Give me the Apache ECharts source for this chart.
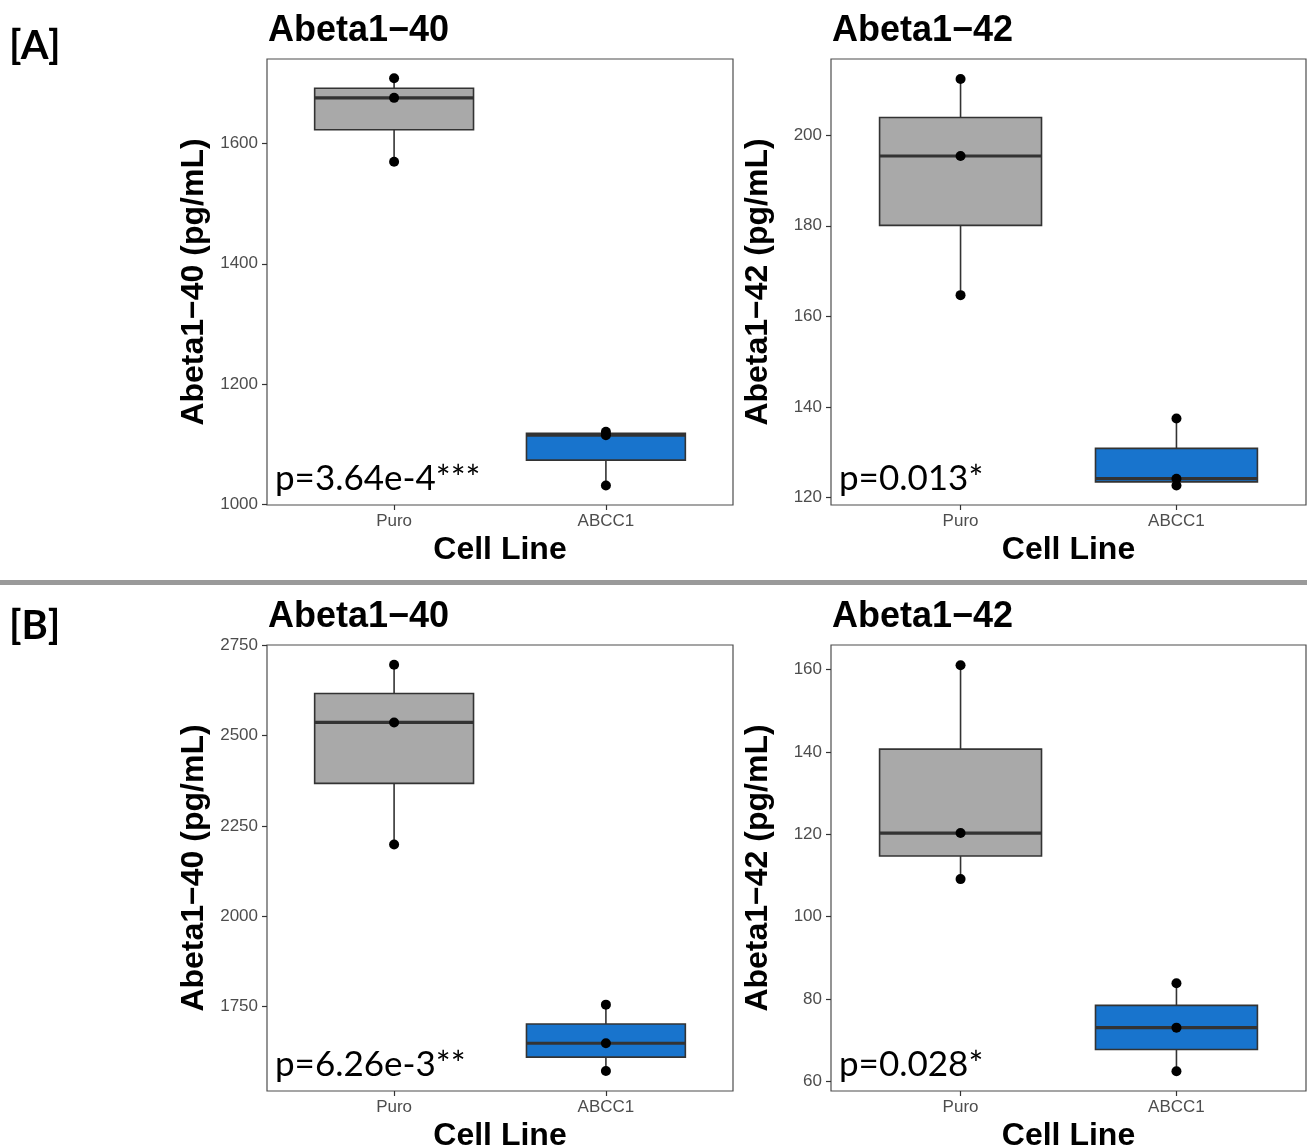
<!DOCTYPE html>
<html>
<head>
<meta charset="utf-8">
<script src="https://cdn.jsdelivr.net/npm/echarts@6/dist/echarts.min.js"></script>
<style>
  html, body { margin: 0; padding: 0; background: #fff; }
  #chart { width: 1307px; height: 1148px; }
</style>
</head>
<body>
<div id="chart"></div>
<script>
var cellLines = ['Puro', 'ABCC1'];
var boxColors = ['#A9A9A9', '#1874CD'];

// box stats per cell line: [min, Q1, median, Q3, max]
var boxA40 = [[1569.5, 1622.5, 1675.5, 1691.5, 1708], [1032, 1074, 1115.5, 1118.5, 1121]];
var boxA42 = [[164.7, 180.1, 195.4, 203.9, 212.4], [122.7, 123.5, 124.2, 130.9, 137.5]];
var boxB40 = [[2199, 2367.9, 2536.7, 2616.6, 2696.5], [1571.8, 1610.2, 1648.6, 1702, 1755.5]];
var boxB42 = [[109.1, 114.7, 120.3, 140.7, 161.1], [62.4, 67.7, 73.0, 78.4, 83.8]];

// individual samples per cell line
var ptsA40 = [[1569.5, 1675.5, 1708], [1032, 1115.5, 1121]];
var ptsA42 = [[164.7, 195.4, 212.4], [122.7, 124.2, 137.5]];
var ptsB40 = [[2199, 2536.7, 2696.5], [1571.8, 1648.6, 1755.5]];
var ptsB42 = [[109.1, 120.3, 161.1], [62.4, 73.0, 83.8]];

// y ranges and tick labels
var rangeA40 = [999.5, 1740], ticksA40 = [1000, 1200, 1400, 1600];
var rangeA42 = [118.4, 216.8], ticksA42 = [120, 140, 160, 180, 200];
var rangeB40 = [1516.5, 2751], ticksB40 = [1750, 2000, 2250, 2500, 2750];
var rangeB42 = [57.6, 166], ticksB42 = [60, 80, 100, 120, 140, 160];

var pLabels = ['p=3.64e-4***', 'p=0.013*', 'p=6.26e-3**', 'p=0.028*'];

var panels = [
  { title: 'Abeta1\u221240', yName: 'Abeta1\u221240 (pg/mL)', box: boxA40, pts: ptsA40, range: rangeA40, ticks: ticksA40,
    grid: { left: 267, top: 59, width: 466, height: 446 } },
  { title: 'Abeta1\u221242', yName: 'Abeta1\u221242 (pg/mL)', box: boxA42, pts: ptsA42, range: rangeA42, ticks: ticksA42,
    grid: { left: 831, top: 59, width: 475, height: 446 } },
  { title: 'Abeta1\u221240', yName: 'Abeta1\u221240 (pg/mL)', box: boxB40, pts: ptsB40, range: rangeB40, ticks: ticksB40,
    grid: { left: 267, top: 645, width: 466, height: 446 } },
  { title: 'Abeta1\u221242', yName: 'Abeta1\u221242 (pg/mL)', box: boxB42, pts: ptsB42, range: rangeB42, ticks: ticksB42,
    grid: { left: 831, top: 645, width: 475, height: 446 } }
];

var FONT = '"Liberation Sans", Arial, sans-serif';
var PFONT = 'Lato, "Open Sans", sans-serif';

function renderBox(params, api) {
  var x = api.value(0);
  var lo = api.coord([x, api.value(1)]);
  var q1 = api.coord([x, api.value(2)]);
  var med = api.coord([x, api.value(3)]);
  var q3 = api.coord([x, api.value(4)]);
  var hi = api.coord([x, api.value(5)]);
  var w = api.size([0.75, 0])[0];
  var line = { stroke: '#333333', lineWidth: 1.6 };
  return {
    type: 'group',
    children: [
      { type: 'line', shape: { x1: lo[0], y1: lo[1], x2: q1[0], y2: q1[1] }, style: line },
      { type: 'line', shape: { x1: q3[0], y1: q3[1], x2: hi[0], y2: hi[1] }, style: line },
      { type: 'rect', shape: { x: q3[0] - w / 2, y: q3[1], width: w, height: q1[1] - q3[1] },
        style: { fill: api.visual('color'), stroke: '#333333', lineWidth: 1.6 } },
      { type: 'line', shape: { x1: med[0] - w / 2, y1: med[1], x2: med[0] + w / 2, y2: med[1] },
        style: { stroke: '#333333', lineWidth: 3.2 } }
    ]
  };
}

var grids = [], xAxes = [], yAxes = [], series = [], titles = [], texts = [];

panels.forEach(function (p, i) {
  grids.push(Object.assign({
    show: true, borderColor: '#4d4d4d', borderWidth: 1.2, backgroundColor: '#fff',
    outerBoundsMode: 'none', containLabel: false
  }, p.grid));

  xAxes.push({
    type: 'value', gridIndex: i, min: 0.4, max: 2.6,
    name: 'Cell Line', nameLocation: 'middle', nameGap: 29,
    nameTextStyle: { fontFamily: FONT, fontWeight: 'bold', fontSize: 32, color: '#000' },
    axisLine: { show: false },
    splitLine: { show: false },
    axisTick: { show: true, length: 5, customValues: [1, 2], lineStyle: { color: '#333', width: 1.2 } },
    axisLabel: { customValues: [1, 2], margin: 8, fontFamily: FONT, fontSize: 17, color: '#4d4d4d',
      formatter: function (v) { return cellLines[Math.round(v) - 1]; } }
  });

  yAxes.push({
    type: 'value', gridIndex: i, min: p.range[0], max: p.range[1],
    name: p.yName, nameLocation: 'middle', nameRotate: 90, nameGap: 57,
    nameTextStyle: { fontFamily: FONT, fontWeight: 'bold', fontSize: 32, color: '#000' },
    axisLine: { show: false },
    splitLine: { show: false },
    axisTick: { show: true, length: 5, customValues: p.ticks, lineStyle: { color: '#333', width: 1.2 } },
    axisLabel: { customValues: p.ticks, margin: 9, fontFamily: FONT, fontSize: 17, color: '#4d4d4d',
      formatter: function (v) { return String(v); } }
  });

  series.push({
    type: 'custom', xAxisIndex: i, yAxisIndex: i,
    renderItem: renderBox,
    encode: { x: 0, y: [1, 2, 3, 4, 5] },
    data: p.box.map(function (b, k) {
      return { value: [k + 1].concat(b), itemStyle: { color: boxColors[k] } };
    }),
    z: 2
  });

  var pts = [];
  p.pts.forEach(function (vals, k) {
    vals.forEach(function (v) { pts.push([k + 1, v]); });
  });
  series.push({
    type: 'scatter', xAxisIndex: i, yAxisIndex: i,
    symbol: 'circle', symbolSize: 10,
    itemStyle: { color: '#000', opacity: 1 },
    data: pts, z: 5
  });

  titles.push({
    text: p.title, left: p.grid.left + 1, top: p.grid.top - 46, padding: 0,
    textStyle: { fontFamily: FONT, fontWeight: 'bold', fontSize: 36, color: '#000' }
  });

  texts.push({
    type: 'text', left: p.grid.left + 8, top: p.grid.top + p.grid.height - 44,
    style: { text: pLabels[i], font: '35px ' + PFONT, fill: '#000' }, z: 10
  });
});

texts.push({ type: 'text', left: 9, top: 26, style: { text: '[A]', font: 'bold 40px ' + PFONT, fill: '#000' } });
texts.push({ type: 'text', left: 9, top: 606, style: { text: '[B]', font: 'bold 40px ' + PFONT, fill: '#000' } });
texts.push({ type: 'rect', left: 0, top: 580, shape: { width: 1307, height: 5 }, style: { fill: '#9a9a9a' } });

var chart = echarts.init(document.getElementById('chart'));
chart.setOption({
  backgroundColor: '#fff',
  animation: false,
  title: titles,
  grid: grids,
  xAxis: xAxes,
  yAxis: yAxes,
  series: series,
  graphic: texts
});
</script>
</body>
</html>
